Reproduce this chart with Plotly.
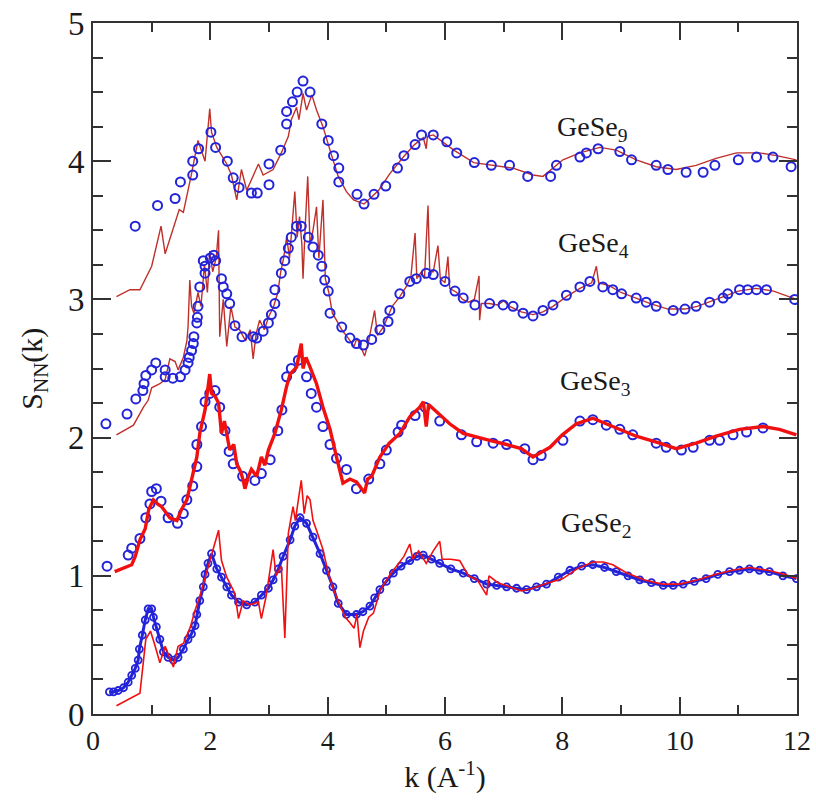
import plotly.graph_objects as go

# ---------------- data (plotted values, offsets included) ----------------
gese9_exp_k = [0.72, 1.10, 1.40, 1.49, 1.70, 1.70, 1.80, 2.01, 2.09, 2.29, 2.39, 2.49, 2.70, 2.80, 3.00, 3.00,
               3.20, 3.30, 3.30, 3.40, 3.48, 3.58, 3.70, 3.90, 4.01, 4.10, 4.19, 4.19, 4.50, 4.62, 4.79, 4.99,
               5.19, 5.30, 5.49, 5.60, 5.80, 6.03, 6.20, 6.50, 6.79, 7.10, 7.41, 7.80, 7.90, 8.30, 8.41, 8.61,
               8.98, 9.18, 9.60, 9.80, 10.11, 10.40, 10.60, 11.00, 11.31, 11.59, 11.90]
gese9_exp_s = [3.53, 3.68, 3.73, 3.85, 3.90, 4.00, 4.09, 4.21, 4.10, 4.00, 3.88, 3.81, 3.77, 3.77, 3.83, 3.98,
               4.08, 4.27, 4.36, 4.43, 4.50, 4.58, 4.50, 4.27, 4.15, 4.04, 3.95, 3.85, 3.76, 3.69, 3.76, 3.82,
               3.95, 4.04, 4.12, 4.19, 4.19, 4.14, 4.06, 3.99, 3.97, 3.97, 3.89, 3.89, 3.97, 4.03, 4.06, 4.09,
               4.07, 4.01, 3.97, 3.94, 3.92, 3.92, 3.97, 4.01, 4.03, 4.03, 3.96]

gese9_sim_k = [0.40, 0.63, 0.80, 1.00, 1.16, 1.23, 1.47, 1.54, 1.68, 1.79, 1.91, 1.99, 2.02, 2.11, 2.28, 2.36,
               2.45, 2.53, 2.62, 2.73, 2.82, 2.90, 3.07, 3.21, 3.33, 3.38, 3.47, 3.51, 3.58, 3.64, 3.73, 3.81,
               3.92, 4.04, 4.18, 4.32, 4.44, 4.62, 4.87, 5.06, 5.29, 5.48, 5.63, 5.68, 5.70, 5.80, 6.15, 6.49,
               6.82, 7.16, 7.50, 7.67, 8.01, 8.30, 8.47, 8.64, 8.92, 9.26, 9.60, 9.94, 10.28, 10.62, 10.97,
               11.36, 11.65, 11.99]
gese9_sim_s = [3.02, 3.07, 3.07, 3.24, 3.53, 3.33, 3.65, 3.63, 3.91, 4.15, 4.00, 4.38, 4.21, 4.10, 3.98, 3.90,
               3.72, 3.94, 3.79, 3.90, 3.98, 3.90, 3.94, 4.06, 4.18, 4.30, 4.39, 4.30, 4.49, 4.37, 4.48, 4.37,
               4.25, 4.08, 3.89, 3.78, 3.72, 3.69, 3.79, 3.91, 4.03, 4.12, 4.17, 4.09, 4.18, 4.19, 4.08, 3.99,
               3.97, 3.95, 3.90, 3.89, 4.01, 4.06, 4.08, 4.10, 4.08, 4.01, 3.96, 3.94, 3.97, 4.02, 4.06,
               4.06, 4.04, 4.01]

gese4_exp_k = [0.22, 0.58, 0.73, 0.85, 0.87, 0.90, 1.00, 1.07, 1.23, 1.23, 1.36, 1.49, 1.57, 1.62, 1.64, 1.68,
               1.71, 1.72, 1.77, 1.78, 1.79, 1.82, 1.88, 1.91, 1.91, 2.00, 2.06, 2.09, 2.19, 2.22, 2.28, 2.33,
               2.42, 2.54, 2.73, 2.79, 2.90, 2.99, 3.04, 3.10, 3.10, 3.21, 3.27, 3.33, 3.38, 3.47, 3.55, 3.67,
               3.75, 3.84, 3.90, 3.95, 4.01, 4.04, 4.24, 4.38, 4.49, 4.61, 4.75, 4.89, 5.03, 5.06, 5.23, 5.40,
               5.51, 5.68, 5.80, 6.00, 6.17, 6.31, 6.51, 6.76, 6.99, 7.16, 7.33, 7.50, 7.67, 7.84, 8.07, 8.30,
               8.47, 8.69, 8.86, 9.01, 9.26, 9.43, 9.60, 9.89, 10.09, 10.28, 10.51, 10.74, 10.82, 11.02, 11.16,
               11.31, 11.48, 11.96]
gese4_exp_s = [2.10, 2.17, 2.28, 2.34, 2.39, 2.45, 2.49, 2.54, 2.49, 2.44, 2.43, 2.44, 2.49, 2.54, 2.58, 2.63,
               2.68, 2.73, 2.83, 2.87, 2.95, 3.09, 3.28, 3.24, 3.19, 3.30, 3.32, 3.28, 3.15, 3.09, 3.04, 2.97,
               2.81, 2.73, 2.73, 2.72, 2.77, 2.83, 2.89, 2.97, 3.07, 3.19, 3.28, 3.37, 3.45, 3.53, 3.53, 3.45,
               3.38, 3.32, 3.24, 3.14, 3.06, 2.90, 2.80, 2.72, 2.68, 2.67, 2.71, 2.78, 2.84, 2.92, 3.04, 3.13,
               3.15, 3.19, 3.18, 3.13, 3.06, 3.01, 2.96, 2.97, 2.96, 2.95, 2.90, 2.88, 2.92, 2.96, 3.03, 3.09,
               3.13, 3.09, 3.07, 3.04, 3.01, 2.98, 2.95, 2.92, 2.93, 2.95, 2.98, 3.01, 3.04, 3.07, 3.07,
               3.07, 3.07, 3.00]

gese4_sim_k = [0.40, 0.69, 0.86, 0.94, 1.00, 1.14, 1.23, 1.31, 1.40, 1.45, 1.54, 1.60, 1.62, 1.65, 1.68, 1.72,
               1.79, 1.84, 1.90, 1.95, 1.99, 2.04, 2.10, 2.14, 2.16, 2.22, 2.28, 2.35, 2.42, 2.50, 2.60, 2.68,
               2.73, 2.78, 2.84, 2.92, 3.00, 3.08, 3.15, 3.20, 3.25, 3.30, 3.35, 3.40, 3.44, 3.48, 3.52, 3.56,
               3.58, 3.62, 3.66, 3.70, 3.75, 3.81, 3.85, 3.92, 3.96, 4.02, 4.08, 4.15, 4.24, 4.35, 4.45, 4.50,
               4.63, 4.70, 4.80, 4.85, 4.95, 5.00, 5.10, 5.23, 5.35, 5.42, 5.49, 5.52, 5.60, 5.65, 5.71, 5.74,
               5.80, 5.88, 5.92, 6.00, 6.05, 6.08, 6.20, 6.30, 6.40, 6.50, 6.58, 6.59, 6.62, 6.75, 6.90, 7.00,
               7.10, 7.30, 7.50, 7.67, 7.84, 8.07, 8.30, 8.50, 8.58, 8.62, 8.80, 9.00, 9.26, 9.50, 9.80, 10.09,
               10.30, 10.50, 10.75, 11.00, 11.30, 11.60, 11.99]
gese4_sim_s = [2.02, 2.09, 2.22, 2.27, 2.36, 2.39, 2.42, 2.57, 2.55, 2.49, 2.58, 2.70, 2.80, 3.14, 2.95, 2.90,
               3.05, 2.95, 3.25, 3.05, 3.35, 3.20, 3.30, 3.50, 2.73, 3.00, 2.66, 2.95, 2.80, 2.78, 2.70, 2.78,
               2.57, 2.75, 2.85, 2.78, 2.88, 2.95, 3.05, 3.20, 3.30, 3.45, 3.30, 3.55, 3.78, 3.45, 3.60, 3.40,
               3.15, 3.55, 3.89, 3.40, 3.50, 3.67, 3.30, 3.72, 3.15, 3.05, 2.90, 2.85, 2.78, 2.72, 2.66, 2.72,
               2.59, 2.70, 2.92, 2.74, 2.80, 2.85, 2.95, 3.02, 3.10, 3.17, 3.48, 3.15, 3.20, 3.15, 3.68, 3.20,
               3.20, 3.39, 3.15, 3.12, 3.31, 3.08, 3.05, 3.00, 2.98, 3.00, 3.17, 2.85, 2.97, 2.97, 2.96, 2.99,
               2.95, 2.91, 2.89, 2.91, 2.95, 3.02, 3.08, 3.12, 3.24, 3.12, 3.10, 3.05, 3.01, 2.97, 2.93, 2.93,
               2.95, 2.98, 3.02, 3.06, 3.08, 3.06, 3.00]

gese3_exp_k = [0.24, 0.60, 0.66, 0.80, 0.90, 0.97, 1.00, 1.08, 1.16, 1.28, 1.44, 1.54, 1.60, 1.70, 1.77, 1.77,
               1.85, 1.91, 1.99, 2.08, 2.16, 2.25, 2.32, 2.39, 2.55, 2.76, 2.87, 3.02, 3.15, 3.22, 3.30, 3.38,
               3.50, 3.64, 3.72, 3.81, 3.92, 4.04, 4.15, 4.32, 4.49, 4.70, 4.89, 5.00, 5.20, 5.26, 5.49, 5.66,
               5.91, 6.28, 6.54, 6.82, 7.05, 7.36, 7.50, 7.64, 8.01, 8.30, 8.52, 8.75, 8.98, 9.20, 9.60, 9.77,
               10.03, 10.23, 10.51, 10.68, 10.91, 11.14, 11.42]
gese3_exp_s = [1.07, 1.15, 1.20, 1.27, 1.42, 1.52, 1.61, 1.63, 1.54, 1.42, 1.38, 1.45, 1.55, 1.65, 1.79, 1.95,
               2.08, 2.26, 2.32, 2.34, 2.22, 2.05, 1.90, 1.81, 1.72, 1.69, 1.74, 1.84, 2.05, 2.20, 2.44, 2.50,
               2.56, 2.44, 2.32, 2.22, 2.08, 1.95, 1.85, 1.77, 1.63, 1.70, 1.81, 1.91, 2.04, 2.09, 2.16, 2.22,
               2.12, 2.02, 1.97, 1.96, 1.95, 1.92, 1.84, 1.87, 1.98, 2.12, 2.13, 2.09, 2.06, 2.02, 1.96, 1.93,
               1.91, 1.93, 1.98, 1.98, 2.02, 2.04, 2.07]

gese3_sim_k = [0.37, 0.66, 0.72, 0.80, 0.89, 0.95, 1.03, 1.10, 1.17, 1.25, 1.31, 1.43, 1.51, 1.60, 1.68, 1.77,
               1.82, 1.91, 1.99, 2.02, 2.08, 2.14, 2.19, 2.24, 2.33, 2.40, 2.45, 2.52, 2.56, 2.59, 2.65, 2.70,
               2.79, 2.87, 2.93, 2.99, 3.10, 3.21, 3.30, 3.36, 3.47, 3.55, 3.58, 3.63, 3.70, 3.81, 3.92, 4.04,
               4.15, 4.26, 4.38, 4.49, 4.63, 4.68, 4.75, 4.89, 5.05, 5.23, 5.40, 5.57, 5.63, 5.68, 5.72, 5.91,
               6.08, 6.31, 6.55, 6.76, 7.05, 7.30, 7.50, 7.79, 8.00, 8.24, 8.52, 8.86, 9.26, 9.66, 9.94, 10.28,
               10.62, 11.02, 11.42, 11.70, 11.99]
gese3_sim_s = [1.03, 1.08, 1.14, 1.26, 1.34, 1.48, 1.55, 1.52, 1.50, 1.45, 1.42, 1.40, 1.48, 1.55, 1.69, 1.86,
               2.03, 2.20, 2.46, 2.32, 2.30, 2.25, 2.03, 2.12, 1.91, 1.95, 1.81, 1.75, 1.69, 1.63, 1.72, 1.77,
               1.72, 1.86, 1.80, 1.91, 2.03, 2.20, 2.37, 2.46, 2.51, 2.68, 2.50, 2.58, 2.51, 2.39, 2.22, 2.06,
               1.86, 1.67, 1.70, 1.68, 1.60, 1.70, 1.72, 1.86, 1.96, 2.03, 2.15, 2.22, 2.26, 2.08, 2.24, 2.17,
               2.10, 2.03, 2.00, 1.98, 1.95, 1.92, 1.86, 1.93, 2.02, 2.10, 2.14, 2.08, 2.01, 1.96, 1.92, 1.96,
               2.01, 2.06, 2.08, 2.06, 2.02]

gese2_exp_k = [0.28, 0.35, 0.43, 0.52, 0.60, 0.66, 0.72, 0.77, 0.79, 0.84, 0.89, 0.94, 1.00, 1.03, 1.08, 1.14,
               1.20, 1.28, 1.37, 1.45, 1.54, 1.62, 1.68, 1.74, 1.77, 1.82, 1.88, 1.91, 1.96, 2.02, 2.11, 2.19,
               2.28, 2.36, 2.48, 2.62, 2.76, 2.87, 2.99, 3.07, 3.16, 3.24, 3.36, 3.44, 3.53, 3.64, 3.75, 3.87,
               3.98, 4.09, 4.18, 4.32, 4.49, 4.60, 4.72, 4.80, 4.89, 5.00, 5.12, 5.25, 5.40, 5.52, 5.63, 5.77,
               5.91, 6.10, 6.31, 6.50, 6.71, 6.88, 7.05, 7.22, 7.39, 7.56, 7.73, 7.93, 8.13, 8.33, 8.52, 8.72,
               8.92, 9.12, 9.32, 9.52, 9.72, 9.89, 10.06, 10.25, 10.45, 10.65, 10.85, 11.02, 11.19, 11.36,
               11.53, 11.76, 11.99]
gese2_exp_s = [0.16, 0.16, 0.17, 0.19, 0.23, 0.28, 0.33, 0.39, 0.47, 0.57, 0.68, 0.76, 0.76, 0.70, 0.63, 0.54,
               0.45, 0.41, 0.39, 0.41, 0.47, 0.54, 0.58, 0.64, 0.72, 0.82, 0.92, 1.01, 1.09, 1.16, 1.05, 0.99,
               0.92, 0.86, 0.81, 0.79, 0.81, 0.86, 0.91, 0.97, 1.05, 1.14, 1.26, 1.36, 1.42, 1.38, 1.28, 1.16,
               1.04, 0.92, 0.80, 0.72, 0.72, 0.74, 0.78, 0.84, 0.90, 0.96, 1.02, 1.07, 1.11, 1.14, 1.15, 1.12,
               1.09, 1.05, 1.02, 0.98, 0.94, 0.93, 0.92, 0.91, 0.90, 0.92, 0.94, 0.99, 1.04, 1.07, 1.08, 1.06,
               1.03, 1.00, 0.97, 0.95, 0.93, 0.93, 0.94, 0.96, 0.98, 1.01, 1.03, 1.04, 1.05, 1.04,
               1.03, 1.00, 0.98]

gese2_sim_k = [0.40, 0.80, 0.90, 0.98, 1.06, 1.14, 1.23, 1.31, 1.37, 1.45, 1.54, 1.66, 1.74, 1.82, 1.91, 2.02,
               2.14, 2.19, 2.28, 2.42, 2.48, 2.56, 2.67, 2.82, 2.87, 2.95, 3.07, 3.12, 3.21, 3.27, 3.33, 3.41,
               3.45, 3.50, 3.55, 3.60, 3.65, 3.70, 3.75, 3.81, 3.92, 4.01, 4.10, 4.20, 4.30, 4.38, 4.45, 4.50,
               4.55, 4.61, 4.70, 4.78, 4.90, 5.05, 5.20, 5.30, 5.40, 5.45, 5.55, 5.68, 5.80, 5.91, 5.95, 6.10,
               6.25, 6.40, 6.55, 6.71, 6.75, 6.90, 7.10, 7.30, 7.50, 7.70, 8.01, 8.25, 8.52, 8.70, 8.86, 9.10,
               9.40, 9.70, 10.00, 10.30, 10.60, 10.90, 11.20, 11.50, 11.80, 11.99]
gese2_sim_s = [0.06, 0.15, 0.54, 0.60, 0.49, 0.37, 0.49, 0.41, 0.34, 0.49, 0.51, 0.63, 0.75, 0.85, 0.99, 1.16,
               1.33, 1.11, 0.99, 0.87, 0.69, 0.82, 0.79, 0.81, 0.69, 0.85, 1.19, 1.00, 1.07, 0.55, 1.31, 1.50,
               1.40, 1.55, 1.69, 1.45, 1.58, 1.55, 1.40, 1.33, 1.19, 1.02, 0.90, 0.80, 0.70, 0.66, 0.62, 0.72,
               0.48, 0.60, 0.70, 0.73, 0.90, 1.00, 1.08, 1.14, 1.23, 1.12, 1.18, 1.09, 1.18, 1.25, 1.12, 1.12,
               1.11, 1.00, 0.97, 0.86, 1.00, 0.95, 0.92, 0.89, 0.91, 0.94, 0.98, 1.05, 1.10, 1.10, 1.08, 1.02,
               0.97, 0.94, 0.94, 0.97, 1.01, 1.04, 1.06, 1.04, 1.01, 0.98]

labels = ["GeSe<sub>9</sub>", "GeSe<sub>4</sub>", "GeSe<sub>3</sub>", "GeSe<sub>2</sub>"]
label_k = [8.50, 8.53, 8.57, 8.57]
label_s = [4.24, 3.40, 2.40, 1.37]

x_ticks = [0, 2, 4, 6, 8, 10, 12]
y_ticks = [0, 1, 2, 3, 4, 5]

# ---------------- figure ----------------
FONT = "Liberation Serif, Times New Roman, serif"
BLUE = "#2323d8"
DARKRED = "#c0302a"
RED = "#f01010"
INK = "#1a1a1a"

fig = go.Figure()

def circles(k, s, size=9, width=2):
    fig.add_trace(go.Scatter(x=k, y=s, mode="markers",
                             marker=dict(symbol="circle-open", size=size, color=BLUE,
                                         line=dict(width=width, color=BLUE)),
                             showlegend=False, hoverinfo="skip"))

def line(k, s, color, width):
    fig.add_trace(go.Scatter(x=k, y=s, mode="lines", line=dict(color=color, width=width),
                             showlegend=False, hoverinfo="skip"))

# GeSe9
line(gese9_sim_k, gese9_sim_s, DARKRED, 1.4)
circles(gese9_exp_k, gese9_exp_s)
# GeSe4
line(gese4_sim_k, gese4_sim_s, DARKRED, 1.4)
circles(gese4_exp_k, gese4_exp_s)
# GeSe3
circles(gese3_exp_k, gese3_exp_s)
line(gese3_sim_k, gese3_sim_s, RED, 3.4)
# GeSe2
fig.add_trace(go.Scatter(x=gese2_exp_k, y=gese2_exp_s, mode="lines+markers",
                         line=dict(color=BLUE, width=3),
                         marker=dict(symbol="circle-open", size=7, color=BLUE, line=dict(width=1.8, color=BLUE)),
                         showlegend=False, hoverinfo="skip"))
line(gese2_sim_k, gese2_sim_s, RED, 1.6)

for t, xk, ys in zip(labels, label_k, label_s):
    fig.add_annotation(x=xk, y=ys, text=t, showarrow=False, xanchor="center", yanchor="middle",
                       font=dict(family=FONT, size=28, color=INK))

# y-axis title placed as a rotated annotation (left of the tick labels)
fig.add_annotation(xref="paper", yref="paper", x=-0.085, y=0.5, text="S<sub>NN</sub>(k)",
                   textangle=-90, showarrow=False, xanchor="center", yanchor="middle",
                   font=dict(family=FONT, size=30, color=INK))

axis_common = dict(showline=True, linecolor="#333333", linewidth=2, mirror="allticks",
                   ticks="inside", tickcolor="#333333", tickwidth=2, showgrid=False, zeroline=False,
                   automargin=False)

fig.update_xaxes(range=[0, 12], tickvals=x_ticks, ticklen=17,
                 minor=dict(dtick=1, ticklen=9, tickwidth=2, ticks="inside", tickcolor="#333333", showgrid=False),
                 tickfont=dict(family=FONT, size=28, color=INK),
                 title=dict(text="k (A<sup>-1</sup>)", font=dict(family=FONT, size=30, color=INK), standoff=10),
                 **axis_common)
fig.update_yaxes(range=[0, 5], tickvals=y_ticks, ticklen=18,
                 minor=dict(dtick=0.25, ticklen=10, tickwidth=2, ticks="inside", tickcolor="#333333", showgrid=False),
                 tickfont=dict(family=FONT, size=33, color=INK),
                 **axis_common)

fig.update_layout(width=816, height=805, margin=dict(l=93, r=19, t=23, b=91),
                  paper_bgcolor="white", plot_bgcolor="white")

fig.write_html("out.html", config={"displayModeBar": False},
               post_script="document.body.style.margin='0';document.body.style.overflow='hidden';")
